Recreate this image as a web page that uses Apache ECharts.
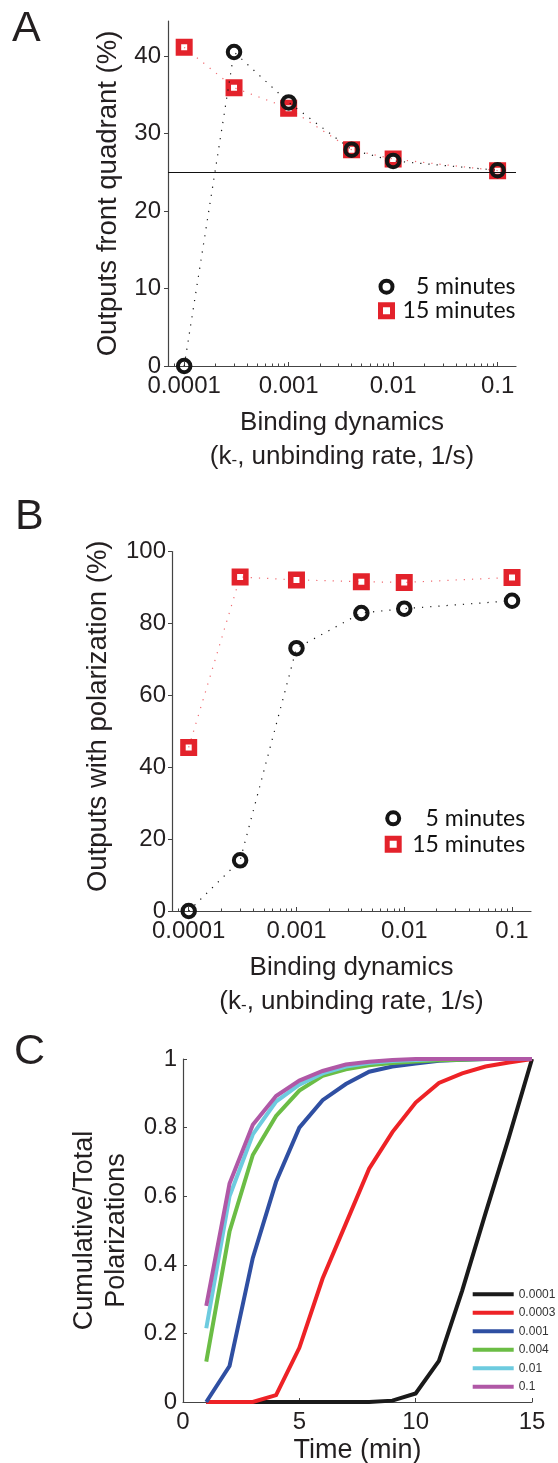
<!DOCTYPE html>
<html>
<head>
<meta charset="utf-8">
<script src="https://cdn.jsdelivr.net/npm/echarts@6/dist/echarts.min.js"></script>
<style>
  html, body { margin: 0; padding: 0; background: #ffffff; }
  #chart { width: 558px; height: 1463px; }
</style>
</head>
<body>
<div id="chart"></div>
<script>
// Unbinding rates k- (1/s) used in panels A and B
const unbindingRates = [0.0001, 0.0003, 0.001, 0.004, 0.01, 0.1];
const rateTickValues = [0.0001, 0.001, 0.01, 0.1];
const rateTickLabels = ['0.0001', '0.001', '0.01', '0.1'];

// Panel A: outputs in the front quadrant (%)
const frontQuadrant5min = [0, 40.5, 34.0, 27.9, 26.45, 25.25];
const frontQuadrant15min = [41.1, 35.9, 33.25, 27.9, 26.7, 25.2];
const chanceLevel = 25;
const frontTicks = [0, 10, 20, 30, 40];

// Panel B: outputs with polarization (%)
const polarized5min = [0, 14.1, 73.1, 82.9, 84.1, 86.3];
const polarized15min = [45.5, 92.9, 92.1, 91.6, 91.4, 92.8];

// Panel C: cumulative fraction of polarizations over time, one curve per k-
const timeMinutes = [1, 2, 3, 4, 5, 6, 7, 8, 9, 10, 11, 12, 13, 14, 15];
const curveRates = ['0.0001', '0.0003', '0.001', '0.004', '0.01', '0.1'];
const cumulativeK0001 = [0, 0, 0, 0, 0, 0, 0, 0, 0.004, 0.025, 0.12, 0.325, 0.55, 0.77, 1];
const cumulativeK0003 = [0, 0, 0, 0.02, 0.158, 0.36, 0.52, 0.68, 0.787, 0.873, 0.93, 0.958, 0.978, 0.99, 1];
const cumulativeK001 = [0, 0.105, 0.42, 0.642, 0.80, 0.88, 0.927, 0.963, 0.978, 0.987, 0.995, 0.998, 1, 1, 1];
const cumulativeK004 = [0.118, 0.497, 0.72, 0.834, 0.908, 0.951, 0.97, 0.982, 0.988, 0.993, 0.996, 0.998, 1, 1, 1];
const cumulativeK01 = [0.215, 0.60, 0.78, 0.876, 0.925, 0.958, 0.978, 0.988, 0.994, 0.997, 1, 1, 1, 1, 1];
const cumulativeK1 = [0.28, 0.637, 0.808, 0.892, 0.937, 0.965, 0.984, 0.992, 0.997, 1, 1, 1, 1, 1, 1];
const curveValues = [cumulativeK0001, cumulativeK0003, cumulativeK001, cumulativeK004, cumulativeK01, cumulativeK1];
const curveColors = ['#1a1a1a', '#ee2226', '#2f4fa2', '#6bbd45', '#6dcbdf', '#b058a6'];

// ---- styling ----
const TEXT = '#231f20';
const AXIS = '#444444';
const BLACK = '#151515';
const RED = '#e3222b';
const SANS = 'Liberation Sans, Arial, sans-serif';
const LEGEND_FONT = 'Lato, Open Sans, sans-serif';
const RATE_MIN = 7e-5;
const RATE_MAX = 0.15;

// minor tick positions (2..9 x each decade) of the log axes
const minorRateTicks = [];
for (let e = -5; e <= -1; e++) {
  for (let m = 2; m <= 9; m++) {
    const v = m * Math.pow(10, e);
    if (v > RATE_MIN && v < RATE_MAX) minorRateTicks.push(v);
  }
}

function rateLabel(v) {
  const i = rateTickValues.findIndex(t => Math.abs(Math.log10(t / v)) < 0.01);
  return i < 0 ? '' : rateTickLabels[i];
}

const xNameRich = {
  sub: { fontSize: 17, fontFamily: SANS, color: TEXT, padding: [6, 0, 0, 0] }
};

function rateAxes(gridIndex) {
  return [
    {
      type: 'log', logBase: 10, gridIndex, position: 'bottom', min: RATE_MIN, max: RATE_MAX,
      name: 'Binding dynamics\n(k{sub|-}, unbinding rate, 1/s)',
      nameLocation: 'middle', nameGap: 40,
      nameTextStyle: { fontFamily: SANS, fontSize: 26, color: TEXT, lineHeight: 34, rich: xNameRich },
      axisLine: { lineStyle: { color: AXIS, width: 1.2 } },
      axisTick: { show: true, inside: true, length: 4, customValues: rateTickValues, lineStyle: { color: AXIS } },
      axisLabel: { customValues: rateTickValues, formatter: rateLabel, fontFamily: SANS, fontSize: 24, color: TEXT, margin: 8 },
      splitLine: { show: false }, minorTick: { show: false }
    },
    {
      type: 'log', logBase: 10, gridIndex, position: 'bottom', offset: 0, min: RATE_MIN, max: RATE_MAX,
      axisLine: { show: false },
      axisTick: { show: true, inside: true, length: 2.5, customValues: minorRateTicks, lineStyle: { color: AXIS, width: 1 } },
      axisLabel: { show: false },
      splitLine: { show: false }
    }
  ];
}

function pairs(xs, ys) { return xs.map((x, i) => [x, ys[i]]); }

function markerSeries(name, xAxisIndex, yAxisIndex, values, isCircle, z) {
  return {
    name, type: 'line', xAxisIndex, yAxisIndex, z,
    data: pairs(unbindingRates, values),
    symbol: isCircle ? 'circle' : 'rect',
    symbolSize: isCircle ? 12.5 : 11.5,
    showAllSymbol: true,
    lineStyle: isCircle
      ? { color: BLACK, width: 1.2, type: [1.2, 7] }
      : { color: '#f06a70', width: 1.2, type: [1.2, 7] },
    itemStyle: isCircle
      ? { color: 'rgba(255,255,255,0)', borderColor: BLACK, borderWidth: 4 }
      : { color: 'rgba(255,255,255,0)', borderColor: RED, borderWidth: 5.5 },
    emphasis: { disabled: true }
  };
}

const legendItems = [
  { name: '5 minutes', icon: 'circle', itemStyle: { color: 'rgba(255,255,255,0)', borderColor: BLACK, borderWidth: 4 } },
  { name: '15 minutes', icon: 'rect', itemStyle: { color: 'rgba(255,255,255,0)', borderColor: RED, borderWidth: 5 } }
];

function markerLegend(left, top, gap, textWidth) {
  return {
    data: legendItems, orient: 'vertical', left, top, padding: 0,
    itemWidth: 12, itemHeight: 12, itemGap: gap,
    selectedMode: false,
    formatter: n => '{r|' + n + '}',
    textStyle: {
      fontFamily: LEGEND_FONT, fontSize: 23, color: '#111', lineHeight: 20,
      rich: { r: { width: textWidth, align: 'right', fontFamily: LEGEND_FONT, fontSize: 23, color: '#111', lineHeight: 20 } }
    }
  };
}

const panelLetter = (text, left, top) => ({
  type: 'text', left, top,
  style: { text, fontFamily: SANS, fontSize: 43, fill: TEXT }
});

const xAxes = [...rateAxes(0), ...rateAxes(1), {
  type: 'value', gridIndex: 2, min: 0, max: 15, interval: 5,
  name: 'Time (min)', nameLocation: 'middle', nameGap: 34,
  nameTextStyle: { fontFamily: SANS, fontSize: 27, color: TEXT, lineHeight: 30 },
  axisLine: { lineStyle: { color: AXIS, width: 1.2 } },
  axisTick: { inside: true, length: 4, lineStyle: { color: AXIS } },
  axisLabel: { fontFamily: SANS, fontSize: 24, color: TEXT, margin: 8 },
  splitLine: { show: false }
}];

const yAxes = [
  {
    type: 'value', gridIndex: 0, min: 0, max: 44.5, interval: 10,
    name: 'Outputs front quadrant (%)', nameLocation: 'middle', nameGap: 40,
    nameTextStyle: { fontFamily: SANS, fontSize: 27.5, color: TEXT, lineHeight: 30 },
    axisLine: { lineStyle: { color: AXIS, width: 1.2 } },
    axisTick: { inside: false, length: 4, customValues: frontTicks, lineStyle: { color: AXIS } },
    axisLabel: { customValues: frontTicks, fontFamily: SANS, fontSize: 24, color: TEXT, margin: 7 },
    splitLine: { show: false }
  },
  {
    type: 'value', gridIndex: 1, min: 0, max: 100, interval: 20,
    name: 'Outputs with polarization (%)', nameLocation: 'middle', nameGap: 59,
    nameTextStyle: { fontFamily: SANS, fontSize: 27.5, color: TEXT, lineHeight: 30, padding: [0, 0, 0, 30] },
    axisLine: { lineStyle: { color: AXIS, width: 1.2 } },
    axisTick: { inside: false, length: 4, lineStyle: { color: AXIS } },
    axisLabel: { fontFamily: SANS, fontSize: 24, color: TEXT, margin: 6 },
    splitLine: { show: false }
  },
  {
    type: 'value', gridIndex: 2, min: 0, max: 1, interval: 0.2,
    name: 'Cumulative/Total\nPolarizations', nameLocation: 'middle', nameGap: 49,
    nameTextStyle: { fontFamily: SANS, fontSize: 27, color: TEXT, lineHeight: 32 },
    axisLine: { lineStyle: { color: AXIS, width: 1.2 } },
    axisTick: { inside: true, length: 4, lineStyle: { color: AXIS } },
    axisLabel: { fontFamily: SANS, fontSize: 24, color: TEXT, margin: 6 },
    splitLine: { show: false }
  }
];

const series = [
  markerSeries('15 minutes', 0, 0, frontQuadrant15min, false, 2),
  Object.assign(markerSeries('5 minutes', 0, 0, frontQuadrant5min, true, 3), {
    markLine: {
      silent: true, symbol: 'none', animation: false,
      label: { show: false },
      lineStyle: { color: '#111', width: 1.2, type: 'solid' },
      data: [{ yAxis: chanceLevel }]
    }
  }),
  markerSeries('15 minutes', 2, 1, polarized15min, false, 2),
  markerSeries('5 minutes', 2, 1, polarized5min, true, 3)
];

curveRates.forEach((rate, i) => {
  series.push({
    name: rate, type: 'line', xAxisIndex: 4, yAxisIndex: 2, z: 2 + i,
    data: pairs(timeMinutes, curveValues[i]),
    symbol: 'none',
    lineStyle: { color: curveColors[i], width: 4, cap: 'butt', join: 'miter' },
    itemStyle: { color: curveColors[i] },
    emphasis: { disabled: true }
  });
});

const chart = echarts.init(document.getElementById('chart'), null, { renderer: 'canvas' });
chart.setOption({
  backgroundColor: '#ffffff',
  animation: false,
  grid: [
    { left: 168, right: 42, top: 21, bottom: 1097, outerBoundsMode: 'none' },
    { left: 172, right: 27, top: 551.5, bottom: 552, outerBoundsMode: 'none' },
    { left: 183, right: 26, top: 1059, bottom: 61, outerBoundsMode: 'none' }
  ],
  xAxis: xAxes,
  yAxis: yAxes,
  legend: [
    markerLegend(378, 275.2, 1, 118),
    markerLegend(384.7, 806.8, 3, 121),
    {
      data: curveRates.map(n => ({ name: n, icon: 'rect' })),
      orient: 'vertical', left: 472.7, top: 1287.3, padding: 0,
      itemWidth: 41, itemHeight: 4, itemGap: 4.5, selectedMode: false,
      textStyle: { fontFamily: SANS, fontSize: 12, color: '#333', lineHeight: 14 }
    }
  ],
  graphic: [
    panelLetter('A', 12, 8),
    panelLetter('B', 15, 496),
    panelLetter('C', 14, 1031)
  ],
  series
});
</script>
</body>
</html>
